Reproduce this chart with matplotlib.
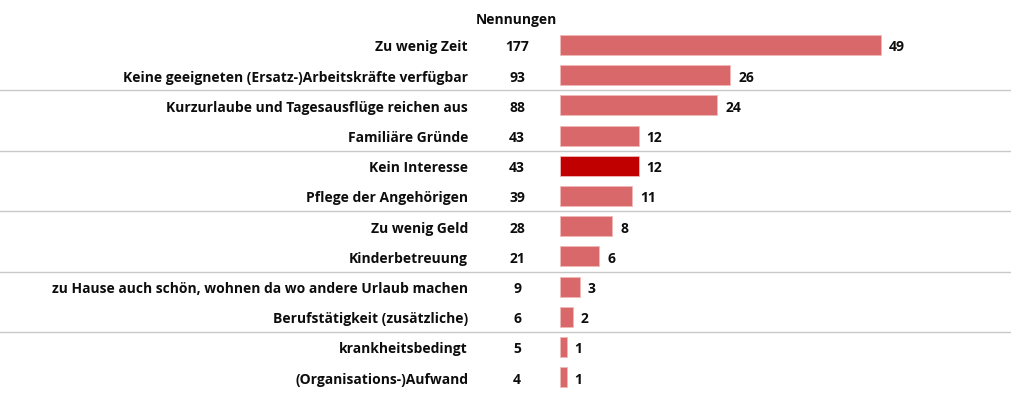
import matplotlib
matplotlib.use("Agg")
import matplotlib.pyplot as plt
import matplotlib.transforms as mtransforms

categories = [
    "Zu wenig Zeit",
    "Keine geeigneten (Ersatz-)Arbeitskräfte verfügbar",
    "Kurzurlaube und Tagesausflüge reichen aus",
    "Familiäre Gründe",
    "Kein Interesse",
    "Pflege der Angehörigen",
    "Zu wenig Geld",
    "Kinderbetreuung",
    "zu Hause auch schön, wohnen da wo andere Urlaub machen",
    "Berufstätigkeit (zusätzliche)",
    "krankheitsbedingt",
    "(Organisations-)Aufwand",
]
nennungen = [177, 93, 88, 43, 43, 39, 28, 21, 9, 6, 5, 4]
prozent = [49, 26, 24, 12, 12, 11, 8, 6, 3, 2, 1, 1]
highlight = "Kein Interesse"

plt.rcParams["font.family"] = ["Open Sans", "DejaVu Sans"]

W, H = 1011, 393
fig = plt.figure(figsize=(W / 100, H / 100), dpi=100)
ax = fig.add_axes([0, 0, 1, 1])

# pixel layout: bars start at x=560, ~6.55 px per percent; rows 30.2 px apart
px_per_unit = 6.55
x0 = 560
row0, row_h = 45, 30.2
ax.set_xlim(-x0 / px_per_unit, (W - x0) / px_per_unit)
ax.set_ylim((H - row0) / row_h, -row0 / row_h)
ax.axis("off")

colors = ["#C00000" if c == highlight else "#D9686A" for c in categories]
ys = list(range(len(categories)))
ax.barh(ys, prozent, height=0.66, color=colors, edgecolor="#F2B8B8", linewidth=0.6)

trans = mtransforms.blended_transform_factory(fig.transFigure, ax.transData)
fs = 10
dy = 0.08  # text sits a little below the bar centre
txt = dict(fontsize=fs, fontweight="bold", color="#0D0D0D", va="center")
for y, cat, n, p in zip(ys, categories, nennungen, prozent):
    ax.text(468 / W, y + dy, cat, transform=trans, ha="right", **txt)
    ax.text(517 / W, y + dy, str(n), transform=trans, ha="center", **txt)
    ax.text(p + 1.2, y + dy, str(p), ha="left", **txt)

ax.text(516 / W, -0.82, "Nennungen", transform=trans, ha="center", **txt)

# grey separators after every second row
for sep in [1.5, 3.5, 5.5, 7.5, 9.5]:
    ax.plot([0, 1], [sep, sep], transform=trans, color="#C8C8C8", linewidth=1.0)

fig.savefig("out.png", dpi=100)
